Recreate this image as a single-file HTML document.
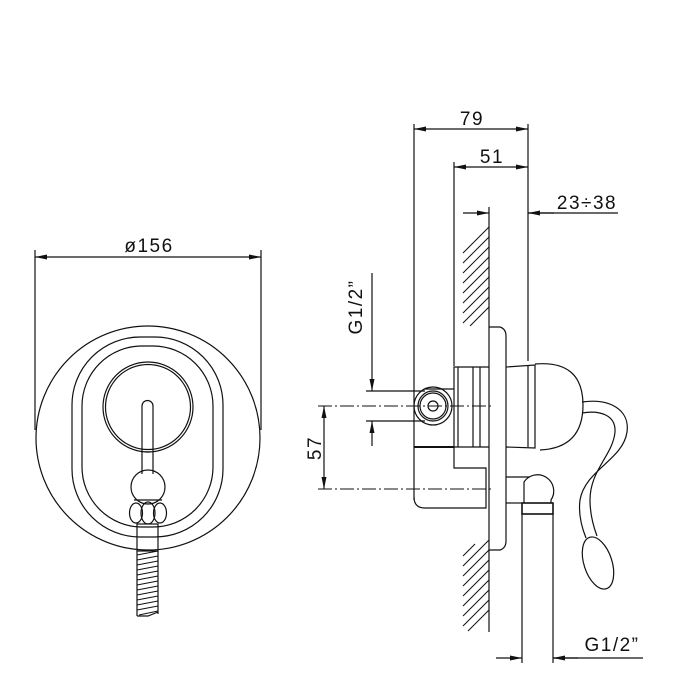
<!DOCTYPE html>
<html><head><style>
html,body{margin:0;padding:0;background:#fff;}
svg{display:block;}
text{font-family:"Liberation Sans",sans-serif;fill:#111;letter-spacing:1.5px;}
</style></head><body>
<svg width="700" height="700" viewBox="0 0 700 700" xmlns="http://www.w3.org/2000/svg">
<defs>
<marker id="a" markerWidth="12" markerHeight="6" refX="12" refY="3" orient="auto-start-reverse" markerUnits="userSpaceOnUse"><path d="M0,0.5 L12,3 L0,5.5z" fill="#111"/></marker>
</defs>
<g fill="none" stroke="#111" stroke-width="1.2">
<!-- LEFT VIEW -->
<line x1="35" y1="257" x2="261" y2="257" marker-start="url(#a)" marker-end="url(#a)"/>
<line x1="35" y1="250" x2="35" y2="430"/>
<line x1="261" y1="250" x2="261" y2="430"/>
<circle cx="148" cy="438" r="112"/>
<rect x="72" y="337" width="151" height="200" rx="68"/>
<rect x="82" y="346" width="131" height="181" rx="60"/>
<circle cx="148" cy="407" r="45"/>
<circle cx="148" cy="407" r="42.5"/>
<path d="M142,474 L142,406 A5.5,5.5 0 0 1 153,406 L153,474"/>
<line x1="145" y1="452" x2="150" y2="452"/>
<circle cx="148" cy="487" r="17"/>
<line x1="134" y1="500" x2="162" y2="500"/>
<ellipse cx="136" cy="513" rx="6.5" ry="10"/>
<ellipse cx="148" cy="513" rx="7" ry="11"/>
<ellipse cx="160" cy="513" rx="6.5" ry="10"/>
<rect x="137" y="524" width="21" height="27"/>
<path d="M137,551 L137,616 M158,551 L158,614 M137,616 L148,616 L158,612" />
<g stroke-width="0.9">
<path d="M137,555 L158,551 M137,560 L158,556 M137,565 L158,561 M137,570 L158,566 M137,575 L158,571 M137,580 L158,576 M137,585 L158,581 M137,590 L158,586 M137,595 L158,591 M137,600 L158,596 M137,605 L158,601 M137,610 L158,606 M139,615 L158,611"/>
</g>
<!-- RIGHT VIEW dims -->
<line x1="414" y1="129" x2="528" y2="129" marker-start="url(#a)" marker-end="url(#a)"/>
<line x1="414" y1="124" x2="414" y2="500"/>
<line x1="528" y1="124" x2="528" y2="361"/>
<line x1="454" y1="167" x2="528" y2="167" marker-start="url(#a)" marker-end="url(#a)"/>
<line x1="454" y1="162" x2="454" y2="366"/>
<line x1="463" y1="213" x2="489" y2="213" marker-end="url(#a)"/>
<line x1="528" y1="213" x2="618" y2="213"/>
<line x1="554" y1="213" x2="528" y2="213" marker-end="url(#a)"/>
<line x1="489" y1="207" x2="489" y2="632"/>
<g stroke-width="1">
<path d="M463,253 L489,227 M463,263 L489,237 M463,273 L489,247 M463,283 L489,257 M463,293 L489,267 M463,303 L489,277 M463,313 L489,287 M463,323 L489,297 M470,326 L489,307"/>
<path d="M463,556 L475,544 M463,566 L489,540 M463,576 L489,550 M463,586 L489,560 M463,596 L489,570 M463,606 L489,580 M463,616 L489,590 M463,626 L489,600 M468,631 L489,610"/>
</g>
<!-- plate -->
<path d="M489,327 L500,327 Q506,329 506,336 L506,541 Q506,548 500,550 L489,550"/>
<!-- body cylinder left -->
<path d="M489,367 L454,367 L454,468 L486,468 L486,508 L425,508 Q414,508 414,497"/>
<line x1="458" y1="367" x2="458" y2="447"/>
<line x1="473" y1="367" x2="473" y2="447"/>
<line x1="480" y1="367" x2="480" y2="447"/>
<line x1="414" y1="447" x2="454" y2="447" stroke-width="2"/>
<line x1="454" y1="447" x2="489" y2="447"/>
<line x1="425" y1="389" x2="454" y2="389"/>
<circle cx="433" cy="406" r="19"/>
<circle cx="433" cy="406" r="15"/>
<circle cx="433" cy="406" r="13"/>
<circle cx="433" cy="406" r="5"/>
<!-- right cylinder and dome -->
<path d="M506,367 L535,365 L535,448 L506,447"/>
<line x1="528" y1="366" x2="528" y2="447"/>
<path d="M535,364 Q583,360 583,405 Q583,448 540,450"/>
<!-- lever -->
<path d="M582,402 C610,398 630,410 627,432 C623,460 585,470 580,500 C578,515 582,528 586,538"/>
<path d="M582,413 C600,410 616,415 615,432 C613,455 590,470 590,500 C590,515 594,528 597,536"/>
<ellipse cx="598" cy="563" rx="14" ry="27" transform="rotate(-18 598 563)"/>
<!-- outlet -->
<line x1="506" y1="477" x2="530" y2="477"/>
<line x1="506" y1="503" x2="522" y2="503"/>
<path d="M524,503 L524,482 A16,16 0 1 1 551,500 L551,503"/>
<rect x="522" y="503" width="31" height="11" stroke-width="1.6"/>
<line x1="522" y1="514" x2="522" y2="663"/>
<line x1="553" y1="514" x2="553" y2="663"/>
<line x1="496" y1="658" x2="522" y2="658" marker-end="url(#a)"/>
<line x1="643" y1="658" x2="553" y2="658"/>
<line x1="578" y1="658" x2="553" y2="658" marker-end="url(#a)"/>
<!-- G1/2 vertical dim -->
<line x1="372" y1="273" x2="372" y2="391" marker-end="url(#a)"/>
<line x1="372" y1="446" x2="372" y2="421" marker-end="url(#a)"/>
<line x1="366" y1="391" x2="425" y2="391"/>
<line x1="366" y1="421" x2="425" y2="421"/>
<!-- 57 dim -->
<line x1="324" y1="406" x2="324" y2="489" marker-start="url(#a)" marker-end="url(#a)"/>
<g stroke-dasharray="14,3,2,3" stroke-width="1">
<line x1="318" y1="406" x2="492" y2="406"/>
<line x1="318" y1="489" x2="492" y2="489"/>
</g>
</g>
<text x="149" y="252" font-size="19" text-anchor="middle">ø156</text>
<text x="472" y="125" font-size="19" text-anchor="middle">79</text>
<text x="492" y="163" font-size="19" text-anchor="middle">51</text>
<text x="587" y="209" font-size="19" text-anchor="middle">23÷38</text>
<text x="612" y="651" font-size="19" text-anchor="middle">G1/2”</text>
<text transform="translate(362,307) rotate(-90)" font-size="19" text-anchor="middle">G1/2”</text>
<text transform="translate(321,448) rotate(-90)" font-size="19" text-anchor="middle">57</text>
</svg>
</body></html>
